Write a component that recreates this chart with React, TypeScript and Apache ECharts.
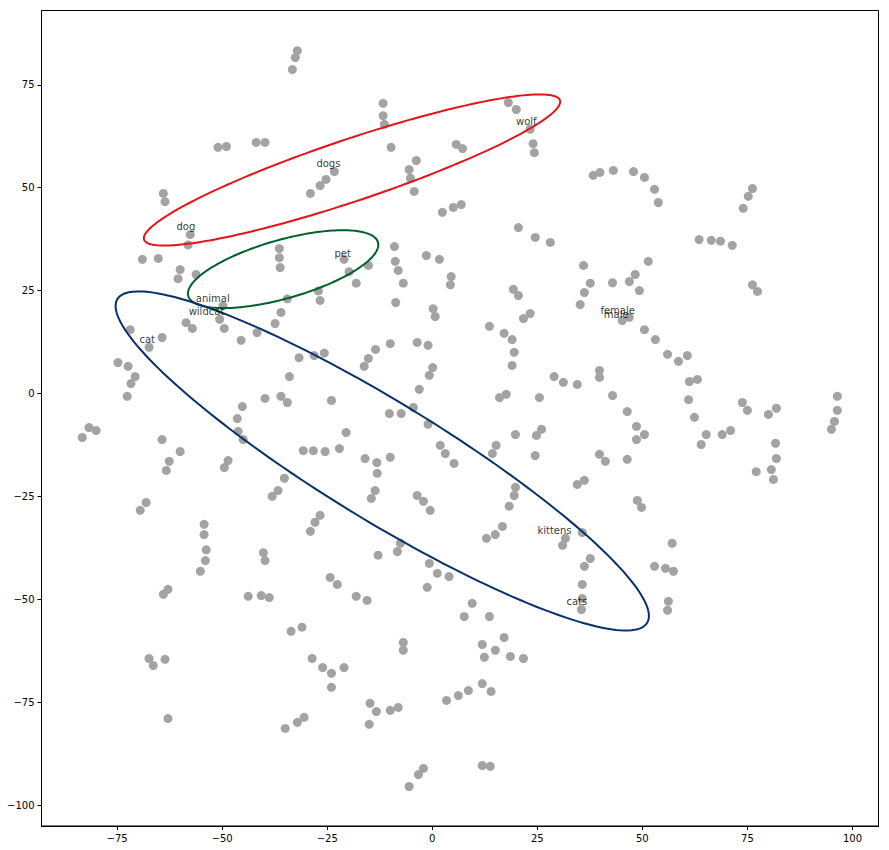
import React, { useEffect, useRef } from "react";
import * as echarts from "echarts";

// t-SNE style embedding points (x, y)
const embeddingPoints: number[][] = [
  [-32.1, 83.3], [-32.6, 81.6], [-33.3, 78.7], [-51.0, 59.8], [-49.0, 60.0], [-41.9, 61.0], [-39.8, 61.0],
  [-64.0, 48.6], [-63.6, 46.6], [-29.0, 48.6], [-26.7, 50.5], [-25.3, 52.0], [-23.3, 53.9], [-57.6, 38.6],
  [-58.1, 36.1], [-69.0, 32.6], [-65.2, 32.8], [-60.0, 30.1], [-60.5, 27.9], [-56.2, 28.9], [-36.4, 35.2],
  [-36.4, 33.0], [-36.2, 30.6], [-11.7, 70.5], [-11.7, 67.5], [-11.4, 65.4], [-9.8, 59.8], [-3.8, 56.6],
  [-5.5, 54.4], [-5.2, 52.3], [-4.3, 49.1], [5.7, 60.5], [7.2, 59.5], [18.1, 70.7], [20.0, 69.0],
  [23.3, 64.2], [24.0, 60.7], [24.3, 58.5], [2.4, 44.0], [5.0, 45.2], [6.9, 45.9], [20.5, 40.3],
  [24.5, 37.9], [28.1, 36.7], [38.3, 53.0], [39.9, 53.7], [36.0, 31.1], [37.6, 26.8], [-9.0, 35.7],
  [-8.8, 32.1], [-8.1, 29.9], [-6.9, 26.8], [-1.4, 33.5], [1.7, 32.6], [4.5, 28.4], [4.3, 26.4],
  [-21.0, 32.6], [-19.8, 29.6], [-15.2, 31.1], [-18.1, 26.8], [43.1, 54.2], [47.9, 53.9], [50.5, 52.5],
  [52.9, 49.6], [53.8, 46.4], [76.2, 49.8], [75.2, 47.9], [74.0, 45.0], [63.5, 37.4], [66.4, 37.2],
  [68.6, 37.0], [71.4, 36.0], [51.4, 32.1], [48.3, 28.9], [46.9, 27.2], [42.9, 26.9], [76.2, 26.4],
  [-49.8, 21.3], [-50.6, 18.0], [-58.6, 17.2], [-57.1, 15.8], [-49.5, 15.8], [-71.9, 15.5], [-64.3, 13.6],
  [-67.4, 11.2], [-45.5, 12.9], [-41.7, 14.8], [-37.4, 17.0], [-36.0, 19.7], [-34.5, 23.0], [-27.1, 24.9],
  [-26.7, 22.6], [-31.7, 8.7], [-28.1, 9.2], [-34.0, 4.1], [-74.8, 7.5], [-72.4, 6.6], [-70.7, 4.1],
  [-71.7, 2.4], [-72.6, -0.7], [-39.8, -1.2], [-36.0, -0.7], [-34.5, -2.2], [-45.2, -3.2], [-46.4, -6.1],
  [-46.2, -9.2], [-45.0, -11.2], [-81.7, -8.3], [-80.0, -9.0], [-83.3, -10.7], [-64.3, -11.2], [-60.0, -14.1],
  [-62.6, -16.5], [-63.3, -18.7], [-48.6, -16.3], [-49.5, -18.0], [-30.7, -13.9], [-28.3, -13.9], [-35.2, -20.6],
  [-36.7, -23.6], [-38.1, -25.0], [-68.1, -26.5], [-69.5, -28.4], [-54.3, -31.8], [-54.3, -34.3], [-53.8, -38.0],
  [-40.2, -38.7], [-26.7, -29.6], [-27.9, -31.3], [-29.0, -33.5], [-8.7, 22.1], [0.2, 20.6], [0.7, 18.7],
  [19.3, 25.3], [20.5, 23.8], [21.7, 18.2], [23.3, 19.4], [13.6, 16.3], [17.1, 14.6], [19.0, 13.1],
  [19.5, 10.0], [19.0, 6.8], [36.2, 24.5], [35.2, 21.6], [-25.7, 9.8], [-13.5, 10.7], [-15.2, 8.5],
  [-16.2, 6.6], [-10.0, 12.1], [-3.6, 12.4], [-1.0, 11.7], [0.1, 6.3], [-0.7, 4.4], [-3.1, 1.0],
  [-24.0, -1.7], [-10.2, -4.9], [-7.4, -4.9], [-4.5, -3.4], [-1.0, -7.5], [29.0, 4.1], [31.2, 2.7],
  [34.5, 2.2], [39.8, 5.6], [39.8, 3.9], [16.0, -1.0], [17.6, -0.2], [25.5, -1.0], [-20.5, -9.5],
  [-25.5, -14.1], [-22.1, -13.4], [-16.0, -15.8], [-13.2, -16.8], [-10.0, -15.5], [-13.1, -19.4], [-13.6, -23.6],
  [-14.5, -25.5], [1.9, -12.6], [3.1, -14.6], [5.2, -17.0], [19.8, -10.0], [15.2, -12.6], [14.3, -14.6],
  [24.8, -10.2], [26.0, -8.7], [24.5, -15.1], [39.8, -14.8], [19.8, -22.8], [19.5, -24.8], [18.3, -27.4],
  [-3.6, -24.8], [-2.1, -26.2], [-0.5, -28.4], [34.5, -22.1], [36.2, -21.1], [16.7, -32.3], [15.0, -34.3],
  [12.9, -35.2], [31.7, -35.2], [31.0, -36.9], [35.7, -33.8], [-7.6, -36.4], [-8.3, -38.4], [-12.9, -39.3],
  [49.3, 25.0], [77.4, 24.8], [45.2, 17.7], [46.9, 18.5], [50.5, 15.5], [53.1, 13.1], [56.0, 9.5],
  [58.6, 7.8], [60.7, 9.2], [61.2, 2.9], [63.1, 3.4], [61.0, -1.5], [62.4, -5.8], [65.2, -10.0],
  [64.0, -12.4], [69.0, -10.0], [71.0, -9.0], [73.8, -2.2], [75.0, -4.1], [80.0, -5.1], [81.9, -3.6],
  [81.7, -12.1], [81.9, -15.8], [80.7, -18.5], [81.2, -20.9], [77.1, -19.0], [96.4, -0.7], [96.4, -4.1],
  [95.7, -6.8], [95.0, -8.7], [42.9, -0.5], [46.4, -4.4], [48.6, -8.0], [50.5, -10.0], [48.6, -11.2],
  [46.4, -16.0], [41.2, -16.5], [48.8, -26.0], [49.8, -27.7], [57.1, -36.4], [-54.0, -40.6], [-55.2, -43.2],
  [-39.8, -40.6], [-64.0, -48.8], [-62.9, -47.6], [-43.8, -49.3], [-40.7, -49.1], [-38.8, -49.6], [-33.6, -57.8],
  [-31.0, -56.8], [-67.4, -64.4], [-66.4, -66.1], [-63.6, -64.6], [-28.6, -64.4], [-26.1, -66.6], [-62.9, -79.0],
  [-35.0, -81.4], [-32.1, -79.9], [-30.5, -78.7], [-24.3, -44.7], [-22.6, -46.4], [-18.1, -49.3], [-15.5, -50.3],
  [-0.7, -41.3], [1.2, -43.7], [4.0, -44.5], [-1.2, -47.1], [9.5, -51.0], [7.6, -54.2], [13.6, -54.2],
  [37.6, -40.1], [36.2, -42.0], [35.7, -46.4], [35.7, -49.8], [35.5, -52.5], [-6.9, -60.5], [-6.9, -62.4],
  [11.9, -61.0], [17.1, -59.3], [15.0, -62.4], [12.4, -64.1], [18.6, -63.9], [21.7, -64.4], [-24.0, -68.0],
  [-21.0, -66.6], [-24.0, -71.4], [3.4, -74.6], [6.2, -73.4], [8.6, -72.2], [11.9, -70.5], [14.0, -72.4],
  [-14.8, -75.3], [-13.3, -77.3], [-15.0, -80.4], [-10.0, -77.0], [-8.1, -76.3], [-2.1, -91.1], [-3.3, -92.6],
  [-5.5, -95.5], [11.9, -90.4], [13.8, -90.6], [52.9, -42.0], [55.5, -42.5], [57.4, -43.2], [56.2, -50.5],
  [56.0, -52.7],
];

// word annotations (left edge / vertical middle of the text)
const wordLabels = ["dog", "dogs", "wolf", "pet", "animal", "wildcat", "cat", "female", "male", "kittens", "cats"];
const wordLabelX = [-61.0, -27.7, 19.8, -23.4, -56.4, -58.1, -69.8, 39.9, 40.7, 24.9, 31.8];
const wordLabelY = [40.5, 55.8, 66.2, 34.1, 23.1, 19.9, 13.2, 20.2, 19.3, -33.2, -50.6];

// cluster ellipses
const ellipseCenters = [[-19.1, 54.3], [-35.5, 30.2], [-11.9, -16.4]];
const ellipseSemiMajor = [52.3, 23.5, 74.3];
const ellipseSemiMinor = [7.5, 7.1, 14.3];
const ellipseAngles = [18.9, 16.2, -32.0];
const ellipseColors = ["#e3141b", "#00622b", "#08306b"];

const xTicks = [-75, -50, -25, 0, 25, 50, 75, 100];
const yTicks = [-100, -75, -50, -25, 0, 25, 50, 75];

const FONT = "DejaVu Sans";
const fmt = (v: number) => String(v).replace("-", "\u2212");

export default function App() {
  const ref = useRef<HTMLDivElement>(null);
  useEffect(() => {
    if (!ref.current) return;
    const chart = echarts.init(ref.current, undefined, { renderer: "svg" });
    const ellipseData = ellipseCenters.map((c, i) => [c[0], c[1], ellipseSemiMajor[i], ellipseSemiMinor[i], ellipseAngles[i]]);
    const axisCommon = {
      type: "value",
      splitLine: { show: false },
      axisLine: { show: true, onZero: false, lineStyle: { color: "#000", width: 1 } },
      axisTick: { show: true, inside: false, length: 4, lineStyle: { color: "#000", width: 1 } },
    };
    chart.setOption({
      animation: false,
      backgroundColor: "#fff",
      grid: { left: 41.5, right: 10.5, top: 10.5, bottom: 24, show: true, borderColor: "#000", borderWidth: 1, backgroundColor: "transparent" },
      xAxis: {
        ...axisCommon,
        min: -93.0,
        max: 106.2,
        axisTick: { ...axisCommon.axisTick, customValues: xTicks },
        axisLabel: { customValues: xTicks, formatter: fmt, color: "#000", fontSize: 10, fontFamily: FONT, margin: 7 },
      },
      yAxis: {
        ...axisCommon,
        min: -105.1,
        max: 93.05,
        axisTick: { ...axisCommon.axisTick, customValues: yTicks },
        axisLabel: { customValues: yTicks, formatter: fmt, color: "#000", fontSize: 10, fontFamily: FONT, margin: 7 },
      },
      series: [
        {
          type: "scatter",
          data: embeddingPoints,
          symbolSize: 9,
          itemStyle: { color: "#a3a3a3", opacity: 1 },
          z: 2,
          silent: true,
        },
        {
          type: "custom",
          data: ellipseData,
          z: 3,
          silent: true,
          renderItem: (params: any, api: any) => {
            const cx = api.value(0);
            const cy = api.value(1);
            const a = api.value(2);
            const b = api.value(3);
            const ang = (api.value(4) * Math.PI) / 180;
            const pts: number[][] = [];
            const n = 180;
            for (let i = 0; i <= n; i++) {
              const t = (i / n) * 2 * Math.PI;
              const ux = a * Math.cos(t);
              const uy = b * Math.sin(t);
              pts.push(api.coord([cx + ux * Math.cos(ang) - uy * Math.sin(ang), cy + ux * Math.sin(ang) + uy * Math.cos(ang)]));
            }
            return {
              type: "polygon",
              shape: { points: pts },
              style: { fill: "none", stroke: ellipseColors[params.dataIndex], lineWidth: 2 },
            };
          },
        },
        {
          type: "scatter",
          data: wordLabels.map((w, i) => ({ name: w, value: [wordLabelX[i], wordLabelY[i]] })),
          symbolSize: 1,
          itemStyle: { color: "rgba(0,0,0,0)" },
          z: 4,
          silent: true,
          label: {
            show: true,
            position: "right",
            distance: 0,
            formatter: "{b}",
            color: "#000000",
            textBorderWidth: 0,
            textBorderColor: "transparent",
            fontSize: 10,
            fontFamily: FONT,
            align: "left",
            verticalAlign: "middle",
          },
        },
      ],
    });
    return () => chart.dispose();
  }, []);
  return <div ref={ref} style={{ position: "absolute", left: 0, top: 0, width: 889, height: 850 }} />;
}
